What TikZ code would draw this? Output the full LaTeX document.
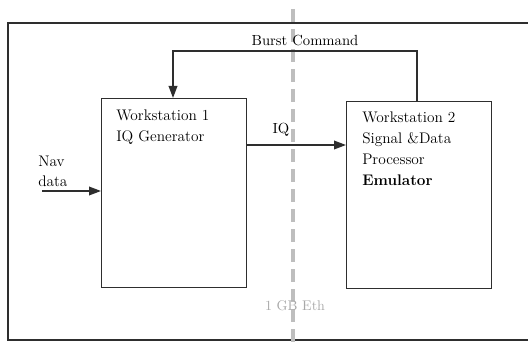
\documentclass[tikz,border=0pt]{standalone}
\usepackage{fontspec}
\setmainfont{Latin Modern Roman}
\usetikzlibrary{arrows.meta,positioning}
\definecolor{boxline}{HTML}{2E2E2E}
\definecolor{ethline}{HTML}{BEBEBE}
\definecolor{ethtext}{HTML}{A8A8A8}
\tikzset{
  station/.style={
    draw=boxline,
    line width=1.1pt,
    minimum width=108.75pt,
    minimum height=#1,
    inner sep=0pt,
    anchor=north west
  },
  station/.default=141.75pt,
  boxtext/.style={
    anchor=north west,
    inner sep=0pt,
    align=left,
    font=\rmfamily\fontsize{11.5}{15.8}\selectfont
  },
  tag/.style={inner sep=0pt, anchor=base, font=\rmfamily\fontsize{11}{14}\selectfont},
  arrow/.style={-{Triangle[length=9pt,width=6.5pt]},line width=1.1pt,draw=boxline},
  divider/.style={draw=ethline,line width=2.3pt,dash pattern=on 10pt off 5pt}
}
\begin{document}
\begin{tikzpicture}[x=0.75pt,y=-0.75pt]
  \useasboundingbox (0,0) rectangle (528,353);
  \draw[boxline,line width=1.1pt] (8,23) rectangle (540,340);

  \node[station] (ws1) at (101,98) {};
  \node[station=140.25pt] (ws2) at (346,101) {};
  \node[boxtext] (ws1txt) at (116,109.5) {Workstation 1\\IQ Generator};
  \node[boxtext] (ws2txt) at (362,111.5) {Workstation 2\\Signal \&Data\\Processor\\\textbf{Emulator}};

  % gigabit ethernet split
  \draw[divider] (293,9) -- (293,346);
  \node[tag,text=ethtext,font=\rmfamily\fontsize{10.5}{13}\selectfont] (eth) at (295,310) {1 GB Eth};

  \coordinate (bstart) at (417,51);
  \coordinate (bend) at (173,51);
  \coordinate (iqrow) at (0,145);
  \coordinate (navstart) at (42,191);

  \draw[arrow] (bstart |- ws2.north) -- (bstart) -- (bend) -- (bend |- ws1.north);
  \node[tag] (burst) at (305,46) {Burst Command};
  \draw[arrow] (ws1.east |- iqrow) -- (ws2.west |- iqrow);
  \node[tag] (iq) at (281,133) {IQ};
  \draw[arrow] (navstart) -- (ws1.west |- navstart);
  \node[tag,anchor=base west,align=left,font=\rmfamily\fontsize{11.5}{15}\selectfont] (nav) at (38,186) {Nav\\data};
\end{tikzpicture}
\end{document}
